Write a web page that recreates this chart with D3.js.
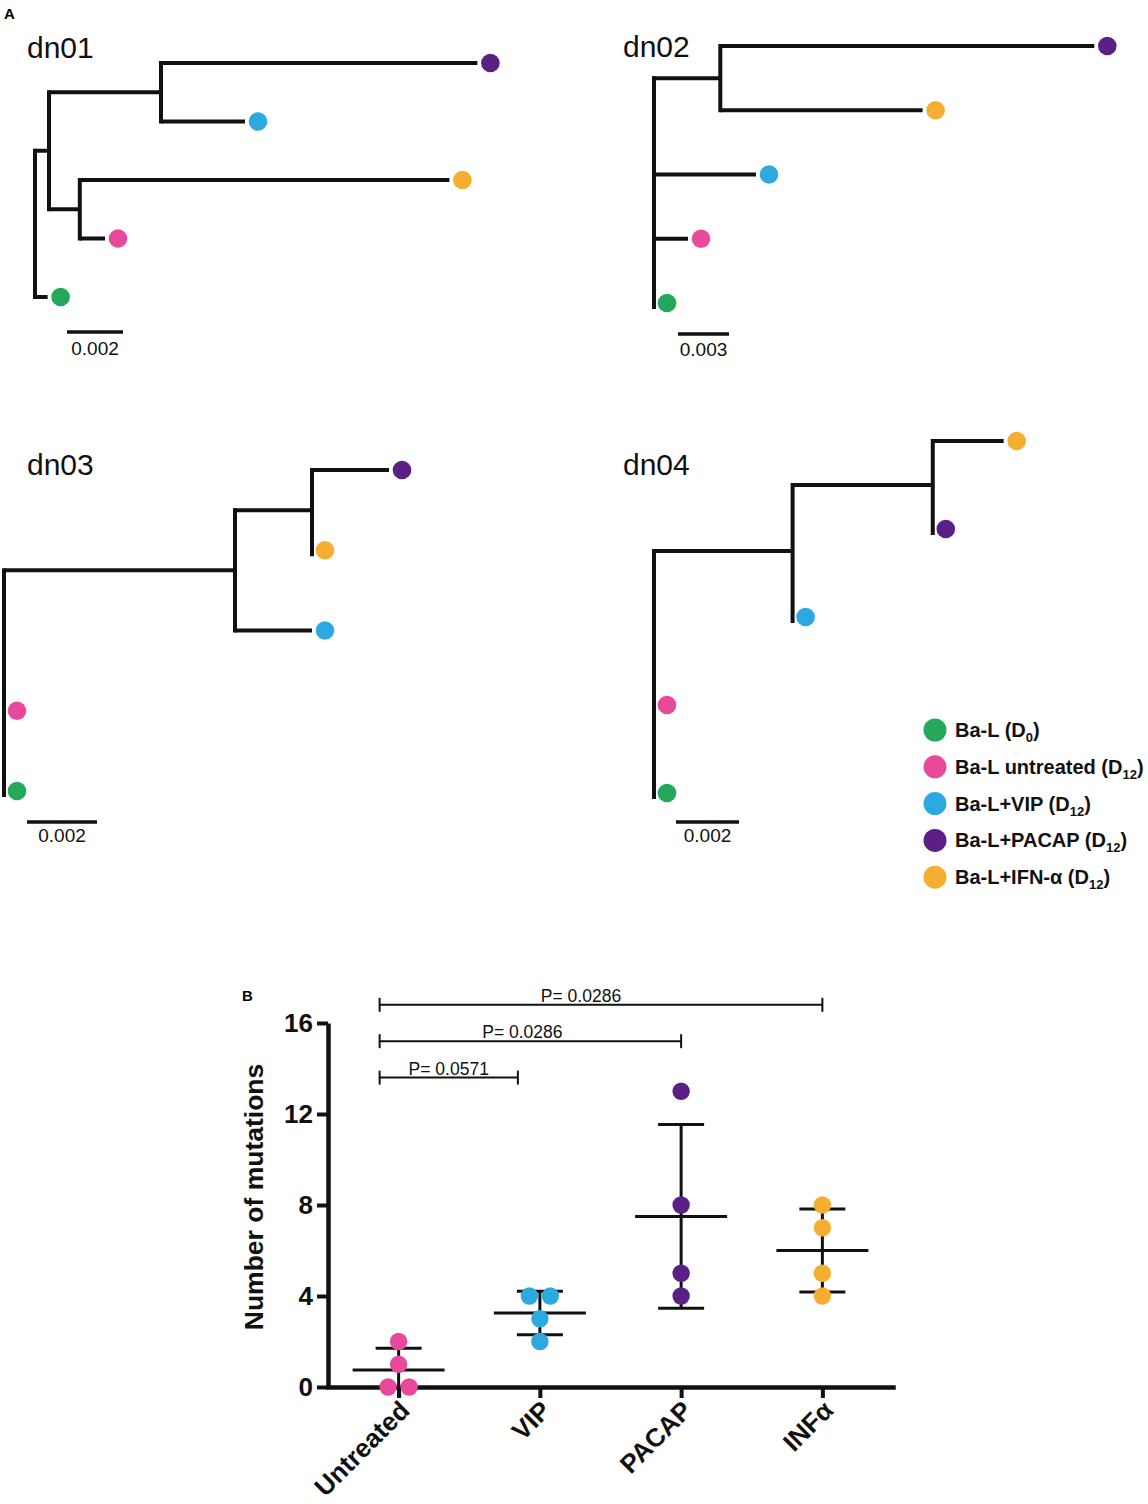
<!DOCTYPE html>
<html>
<head>
<meta charset="utf-8">
<script src="https://cdn.jsdelivr.net/npm/d3@7"></script>
<style>
  html, body { margin: 0; padding: 0; background: #fff; }
  svg { display: block; font-family: "Liberation Sans", Arial, Helvetica, sans-serif; }
</style>
</head>
<body>
<svg id="chart" width="1148" height="1504"></svg>
<script>
// ---------------- DATA ----------------
const tipIds = ["D0", "UT", "VIP", "PACAP", "IFN"];
const legendNames = ["Ba-L (D", "Ba-L untreated (D", "Ba-L+VIP (D", "Ba-L+PACAP (D", "Ba-L+IFN-α (D"];
const legendSubs = ["0", "12", "12", "12", "12"];

// Phylogenetic trees: [node id, parent id, branch length (substitutions/site)]
const dn01Nodes = [
  ["root", null, 0],
  ["A", "root", 0.0005],
  ["B", "A", 0.0040],
  ["PACAP", "B", 0.0113],
  ["VIP", "B", 0.0030],
  ["C", "A", 0.0011],
  ["IFN", "C", 0.0132],
  ["UT", "C", 0.0009],
  ["D0", "root", 0.00045]
];
const dn02Nodes = [
  ["root", null, 0],
  ["D", "root", 0.0039],
  ["PACAP", "D", 0.0220],
  ["IFN", "D", 0.0119],
  ["VIP", "root", 0.0060],
  ["UT", "root", 0.0020],
  ["D0", "root", 0]
];
const dn03Nodes = [
  ["root", null, 0],
  ["E", "root", 0.0066],
  ["F", "E", 0.0022],
  ["PACAP", "F", 0.0022],
  ["IFN", "F", 0],
  ["VIP", "E", 0.0022],
  ["UT", "root", 0],
  ["D0", "root", 0]
];
const dn04Nodes = [
  ["root", null, 0],
  ["G", "root", 0.0044],
  ["H", "G", 0.00445],
  ["IFN", "H", 0.00225],
  ["PACAP", "H", 0],
  ["VIP", "G", 0],
  ["UT", "root", 0],
  ["D0", "root", 0]
];
const treeNames = ["dn01", "dn02", "dn03", "dn04"];
const scaleBarValues = [0.002, 0.003, 0.002, 0.002];
const scaleBarLabels = ["0.002", "0.003", "0.002", "0.002"];

// Panel B: number of mutations per group
const groups = ["Untreated", "VIP", "PACAP", "INFα"];
const mutUntreated = [0, 0, 1, 2];
const mutVIP = [4, 4, 3, 2];
const mutPACAP = [13, 8, 5, 4];
const mutINF = [8, 7, 5, 4];
const yTickValues = [0, 4, 8, 12, 16];
const compFrom = ["Untreated", "Untreated", "Untreated"];
const compTo = ["INFα", "PACAP", "VIP"];
const compLabels = ["P= 0.0286", "P= 0.0286", "P= 0.0571"];

// ---------------- STYLE / LAYOUT ----------------
const tipColors = {D0: "#25a85c", UT: "#e8499a", VIP: "#2ba9e0", PACAP: "#5c1f86", IFN: "#f6ae31"};
const groupColors = ["#e8499a", "#2ba9e0", "#5c1f86", "#f6ae31"];
const treeLayout = [
  {rootX: 35,  ppu: 28000, tipTop: 63,  tipBottom: 297, titleX: 27,  titleY: 58,  barX: 67,  barY: 332, labelY: 355},
  {rootX: 654, ppu: 17000, tipTop: 46,  tipBottom: 303, titleX: 623, titleY: 57,  barX: 678, barY: 334, labelY: 356},
  {rootX: 4,   ppu: 35000, tipTop: 470, tipBottom: 791, titleX: 27,  titleY: 475, barX: 27,  barY: 822, labelY: 842},
  {rootX: 654, ppu: 31500, tipTop: 441, tipBottom: 793, titleX: 623, titleY: 475, barX: 676, barY: 822, labelY: 842}
];
const dotR = 9.3, dotGap = 13, lineW = 4;
const FONT = "'Liberation Sans', Arial, sans-serif";

const svg = d3.select("#chart");
svg.append("rect").attr("width", 1148).attr("height", 1504).attr("fill", "#fff");

// Panel labels
svg.append("text").attr("x", 4).attr("y", 19).attr("font-size", 15).attr("font-weight", "bold").text("A");
svg.append("text").attr("x", 242).attr("y", 1001).attr("font-size", 15).attr("font-weight", "bold").text("B");

// ---------------- TREES ----------------
const allTrees = [dn01Nodes, dn02Nodes, dn03Nodes, dn04Nodes];
allTrees.forEach((nodes, ti) => {
  const L = treeLayout[ti];
  const g = svg.append("g");
  const root = d3.stratify().id(d => d[0]).parentId(d => d[1])(nodes);
  root.each(n => { n.dist = n.parent ? n.parent.dist + n.data[2] : 0; });
  const x = d3.scaleLinear().domain([0, 0.01]).range([L.rootX, L.rootX + L.ppu * 0.01]);
  const leaves = root.leaves();
  const y = d3.scalePoint().domain(leaves.map(l => l.id)).range([L.tipTop, L.tipBottom]);
  root.eachAfter(n => {
    if (!n.children) n.py = y(n.id);
    else n.py = (n.children[0].py + n.children[n.children.length - 1].py) / 2;
  });
  root.descendants().filter(n => n.children).forEach(n => {
    const ys = n.children.map(c => c.py);
    const last = n.children[n.children.length - 1];
    const ext = (!last.children && last.data[2] === 0) ? 4 : 0;
    g.append("line")
      .attr("x1", x(n.dist)).attr("x2", x(n.dist))
      .attr("y1", d3.min(ys)).attr("y2", d3.max(ys) + ext)
      .attr("stroke", "#111").attr("stroke-width", lineW).attr("stroke-linecap", "square");
  });
  root.descendants().filter(n => n.parent && n.data[2] > 0).forEach(n => {
    g.append("line")
      .attr("x1", x(n.parent.dist)).attr("x2", x(n.dist))
      .attr("y1", n.py).attr("y2", n.py)
      .attr("stroke", "#111").attr("stroke-width", lineW).attr("stroke-linecap", "butt");
  });
  g.selectAll("circle.tip").data(leaves).join("circle")
    .attr("class", "tip")
    .attr("cx", d => x(d.dist) + dotGap).attr("cy", d => d.py).attr("r", dotR)
    .attr("fill", d => tipColors[d.id]);
  g.append("text").attr("x", L.titleX).attr("y", L.titleY)
    .attr("font-size", 30).attr("fill", "#111").text(treeNames[ti]);
  const barLen = x(scaleBarValues[ti]) - x(0);
  g.append("line").attr("x1", L.barX).attr("x2", L.barX + barLen)
    .attr("y1", L.barY).attr("y2", L.barY)
    .attr("stroke", "#111").attr("stroke-width", 3.5);
  g.append("text").attr("x", L.barX + barLen / 2).attr("y", L.labelY)
    .attr("text-anchor", "middle").attr("font-size", 19).attr("fill", "#111")
    .text(scaleBarLabels[ti]);
});

// ---------------- LEGEND ----------------
const leg = svg.append("g");
tipIds.forEach((id, i) => {
  const cy = 730 + i * 36.8;
  leg.append("circle").attr("cx", 935).attr("cy", cy).attr("r", 11.5).attr("fill", tipColors[id]);
  const t = leg.append("text").attr("x", 955).attr("y", cy + 7)
    .attr("font-size", 20).attr("font-weight", "bold").attr("fill", "#111");
  t.append("tspan").text(legendNames[i]);
  t.append("tspan").attr("font-size", 13).attr("dy", 5).text(legendSubs[i]);
  t.append("tspan").attr("dy", -5).text(")");
});

// ---------------- PANEL B ----------------
const groupValues = [mutUntreated, mutVIP, mutPACAP, mutINF];
const xB = d3.scalePoint().domain(groups).range([328, 893]).padding(0.5);
const yB = d3.scaleLinear().domain([0, 16]).range([1387, 1023]);

const gB = svg.append("g");
const yAxis = gB.append("g").attr("transform", "translate(328,0)")
  .call(d3.axisLeft(yB).tickValues(yTickValues).tickSize(11).tickSizeOuter(0).tickPadding(4));
yAxis.select(".domain").attr("stroke", "#111").attr("stroke-width", 4.5);
yAxis.selectAll(".tick line").attr("stroke", "#111").attr("stroke-width", 4);
yAxis.selectAll(".tick text").attr("font-size", 26).attr("font-weight", "bold").attr("fill", "#111")
  .attr("font-family", FONT);

const xAxis = gB.append("g").attr("transform", "translate(0,1387)")
  .call(d3.axisBottom(xB).tickSize(11).tickSizeOuter(0));
xAxis.select(".domain").attr("stroke", "#111").attr("stroke-width", 4.5).attr("stroke-linecap", "square");
xAxis.selectAll(".tick line").attr("stroke", "#111").attr("stroke-width", 4);
xAxis.selectAll(".tick text")
  .attr("font-size", 26).attr("font-weight", "bold").attr("fill", "#111")
  .attr("font-family", FONT)
  .attr("text-anchor", "end").attr("y", null).attr("dy", null)
  .attr("transform", "translate(12,25) rotate(-45)");

gB.append("text").attr("transform", "translate(263,1197) rotate(-90)")
  .attr("text-anchor", "middle").attr("font-size", 26.5).attr("font-weight", "bold").attr("fill", "#111")
  .text("Number of mutations");

groups.forEach((grp, gi) => {
  const vals = groupValues[gi];
  const cx = xB(grp);
  const m = d3.mean(vals), sd = d3.deviation(vals);
  const lo = Math.max(0, m - sd), hi = m + sd;
  gB.append("line").attr("x1", cx).attr("x2", cx).attr("y1", yB(lo) + (m - sd < 0 ? 10 : 0)).attr("y2", yB(hi))
    .attr("stroke", "#111").attr("stroke-width", 3);
  gB.append("line").attr("x1", cx - 23).attr("x2", cx + 23).attr("y1", yB(hi)).attr("y2", yB(hi))
    .attr("stroke", "#111").attr("stroke-width", 3);
  if (m - sd > 0) {
    gB.append("line").attr("x1", cx - 23).attr("x2", cx + 23).attr("y1", yB(lo)).attr("y2", yB(lo))
      .attr("stroke", "#111").attr("stroke-width", 3);
  }
  gB.append("line").attr("x1", cx - 46).attr("x2", cx + 46).attr("y1", yB(m)).attr("y2", yB(m))
    .attr("stroke", "#111").attr("stroke-width", 3);
  const counts = d3.rollup(vals, v => v.length, v => v);
  const seen = new Map();
  vals.forEach(v => {
    const n = counts.get(v), k = seen.get(v) || 0;
    seen.set(v, k + 1);
    const off = n > 1 ? (k - (n - 1) / 2) * 21 : 0;
    gB.append("circle").attr("cx", cx + off).attr("cy", yB(v)).attr("r", 8.7)
      .attr("fill", groupColors[gi]);
  });
});

const bracketLevels = [16.8, 15.2, 13.6];
compFrom.forEach((f, i) => {
  const x1 = xB(f) - 19, x2 = xB(compTo[i]) - (compTo[i] === "VIP" ? 22 : 0);
  const yy = yB(bracketLevels[i]);
  const bg = gB.append("g").attr("stroke", "#111").attr("stroke-width", 2);
  bg.append("line").attr("x1", x1).attr("x2", x2).attr("y1", yy).attr("y2", yy);
  bg.append("line").attr("x1", x1).attr("x2", x1).attr("y1", yy - 7).attr("y2", yy + 7);
  bg.append("line").attr("x1", x2).attr("x2", x2).attr("y1", yy - 7).attr("y2", yy + 7);
  gB.append("text").attr("x", (x1 + x2) / 2 - (i === 0 ? 20 : i === 1 ? 8 : 0)).attr("y", yy - 3)
    .attr("text-anchor", "middle").attr("font-size", 17.5).attr("fill", "#111")
    .text(compLabels[i]);
});
</script>
</body>
</html>
